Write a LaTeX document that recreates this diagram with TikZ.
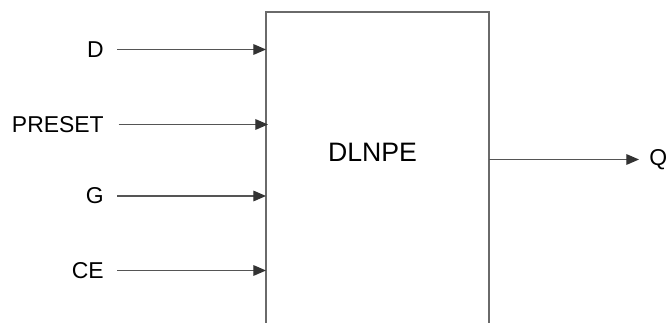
\documentclass[tikz,border=0pt]{standalone}
\usepackage{fontspec}
\setmainfont{Liberation Sans}
\usetikzlibrary{arrows.meta}
\definecolor{linegray}{HTML}{555555}
\definecolor{boxgray}{HTML}{6A6A6A}
\definecolor{tipgray}{HTML}{333333}
\tikzset{
  px/.style={x=0.75pt,y=-0.75pt},
  lbl/.style={inner sep=0pt,anchor=east,font=\fontsize{17.2}{20}\selectfont},
  sig/.style={draw=linegray,line width=0.9pt,-{Triangle[length=9.5pt,width=8pt,fill=tipgray,color=tipgray]}},
  boxline/.style={draw=boxgray,line width=0.9pt}
}
\begin{document}
\begin{tikzpicture}[px]
\useasboundingbox (0,0) rectangle (666,323);
% box (open at bottom, cut by picture edge)
\coordinate (bl) at (266,323);
\coordinate (tl) at (266,12);
\coordinate (tr) at (489,12);
\coordinate (br) at (489,323);
\draw[boxline] (bl) -- (tl) -- (tr) -- (br);
\node[inner sep=0pt,font=\fontsize{20}{24}\selectfont] (title) at (372.5,152.5) {DLNPE};
% inputs
\node[lbl] (D) at (104,49.5) {D};
\node[lbl] (PRESET) at (104,124.5) {PRESET};
\node[lbl] (G) at (104,196) {G};
\node[lbl] (CE) at (104,270.5) {CE};
\coordinate (dD) at (266,49.5);
\coordinate (dP) at (268,124.5);
\coordinate (dG) at (266,196);
\coordinate (dC) at (266,270.5);
\draw[sig] ([xshift=9.75pt]D.east) -- (dD);
\draw[sig] ([xshift=11pt]PRESET.east) -- (dP);
\draw[sig] ([xshift=9.75pt]G.east) -- (dG);
\draw[sig] ([xshift=9.75pt]CE.east) -- (dC);
% output
\node[inner sep=0pt,anchor=west,font=\fontsize{17.2}{20}\selectfont] (Q) at (649,159.5) {Q};
\coordinate (qs) at (489,159.5);
\draw[sig] (qs) -- ([xshift=-7.5pt]Q.west);
\end{tikzpicture}
\end{document}
